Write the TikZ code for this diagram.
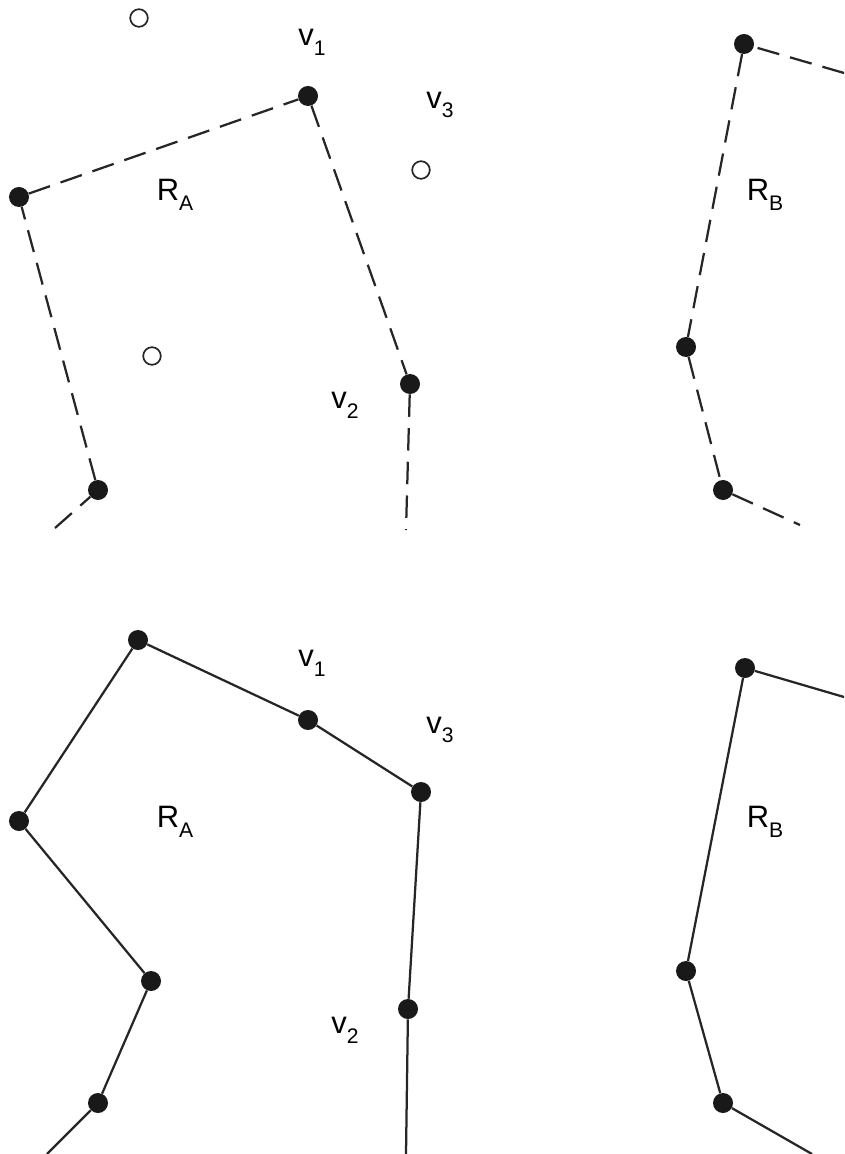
\documentclass[tikz,border=0pt]{standalone}
\usepackage{fontspec}
\setmainfont{Liberation Sans}
\newcommand{\lbl}[2]{#1\raisebox{-7pt}{\fontsize{15}{15}\selectfont #2}}
\begin{document}
\begin{tikzpicture}[x=0.025cm, y=-0.025cm,
    dot/.style={circle, fill=black!90, inner sep=0pt, minimum size=0.5cm},
    hole/.style={circle, draw=black!85, line width=1.2pt, fill=white, inner sep=0pt, minimum size=0.44cm},
    edge/.style={draw=black!85, line width=1.6pt},
    dashedge/.style={edge, dash pattern=on 16pt off 8pt},
    txt/.style={font=\fontsize{22}{26}\selectfont, inner sep=0pt}]
    \useasboundingbox (0,0) rectangle (844,1154);
    % upper picture
    \node[hole] (h1) at (139,18) {};
    \node[hole] (h2) at (421,170) {};
    \node[hole] (h3) at (152,356) {};
    \node[dot] (a1) at (19,197) {};
    \node[dot] (a2) at (308,96) {};
    \node[dot] (a3) at (410,384) {};
    \node[dot] (a4) at (98,490) {};
    \coordinate (a5) at (406,530);
    \coordinate (a6) at (55,528);
    \draw[dashedge] (a6) -- (a4) -- (a1) -- (a2) -- (a3) -- (a5);
    \node[dot] (b1) at (744,44) {};
    \node[dot] (b2) at (686,347) {};
    \node[dot] (b3) at (723,490) {};
    \coordinate (b0) at (844,73);
    \coordinate (b4) at (800,525);
    \draw[dashedge] (b0) -- (b1) -- (b2) -- (b3) -- (b4);
    \node[txt] (t1) at (312,42) {\lbl{v}{1}};
    \node[txt] (t3) at (440,105) {\lbl{v}{3}};
    \node[txt] (t2) at (345,405) {\lbl{v}{2}};
    \node[txt] (ra) at (175,195) {\lbl{R}{A}};
    \node[txt] (rb) at (765,195) {\lbl{R}{B}};
    % lower picture
    \node[dot] (c1) at (138,640) {};
    \node[dot] (c2) at (308,720) {};
    \node[dot] (c3) at (421,792) {};
    \node[dot] (c4) at (19,821) {};
    \node[dot] (c5) at (151,981) {};
    \node[dot] (c6) at (98,1103) {};
    \node[dot] (c7) at (408,1009) {};
    \coordinate (c8) at (406,1154);
    \coordinate (c9) at (47,1154);
    \draw[edge] (c8) -- (c7) -- (c3) -- (c2) -- (c1) -- (c4) -- (c5) -- (c6) -- (c9);
    \node[dot] (d1) at (745,668) {};
    \node[dot] (d2) at (686,971) {};
    \node[dot] (d3) at (723,1103) {};
    \coordinate (d0) at (844,697);
    \coordinate (d4) at (812,1154);
    \draw[edge] (d0) -- (d1) -- (d2) -- (d3) -- (d4);
    \node[txt] (s1) at (312,663) {\lbl{v}{1}};
    \node[txt] (s3) at (440,730) {\lbl{v}{3}};
    \node[txt] (s2) at (345,1030) {\lbl{v}{2}};
    \node[txt] (sa) at (175,822) {\lbl{R}{A}};
    \node[txt] (sb) at (765,822) {\lbl{R}{B}};
\end{tikzpicture}
\end{document}
